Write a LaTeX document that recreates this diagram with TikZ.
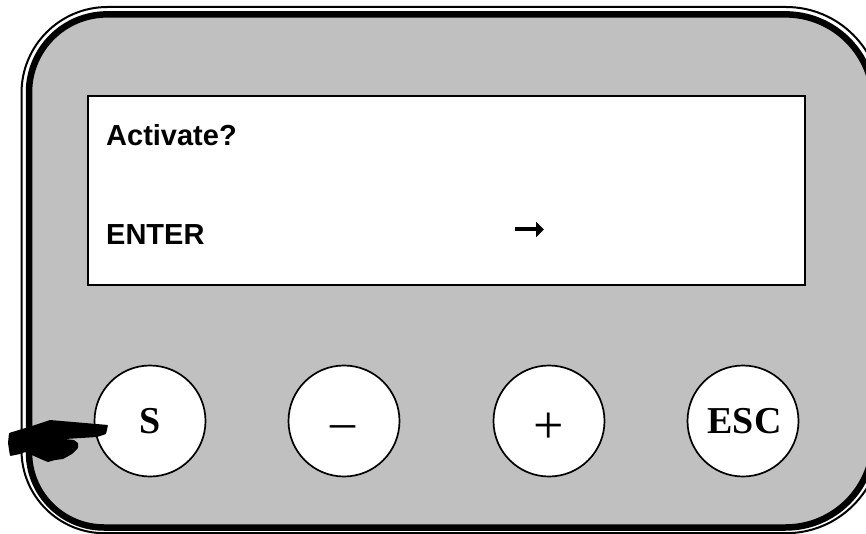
\documentclass[tikz,border=0pt]{standalone}
\usepackage{fontspec}
\setmainfont{Liberation Serif}
\setsansfont{Liberation Sans}
\usepackage{xcolor}
\usepackage{tikz}
\usetikzlibrary{arrows.meta,positioning}
\definecolor{panelgray}{HTML}{C0C0C0}
\tikzset{
  keybtn/.style={draw=black,line width=1.7pt,fill=white,circle,minimum size=111pt,inner sep=0pt,font=\rmfamily\bfseries},
  keylabel/.style={font=\rmfamily\bfseries\fontsize{38}{40}\selectfont},
  lcdtext/.style={font=\sffamily\bfseries\fontsize{29}{31}\selectfont,anchor=base west,inner sep=0pt}
}
\begin{document}
\begin{tikzpicture}[x=1pt,y=-1pt,>=Latex]
\useasboundingbox (0,0) rectangle (866,534);
\begin{scope}
\clip (0,0) rectangle (866,534);
\draw[line width=2pt] (400,7) [rounded corners=95pt] -- (881,7) -- (881,533.2) [rounded corners=83pt] -- (21.5,533.2) [rounded corners=86pt] -- (21.5,7) [sharp corners] -- cycle;
\draw[fill=panelgray,draw=black,line width=6.5pt] (400,14.4) [rounded corners=88pt] -- (873.5,14.4) -- (873.5,527.5) [rounded corners=75pt] -- (29,527.5) [rounded corners=78pt] -- (29,14.4) [sharp corners] -- cycle;
\end{scope}
\node[draw=black,line width=1.7pt,fill=white,minimum width=717pt,minimum height=189pt,inner sep=0pt] (lcd) at (446.5,190.5) {};
\node[lcdtext] (msgtop) at (106,146) {Activate?};
\node[lcdtext] (msgenter) at (106,245) {ENTER};
\node[keybtn,keylabel] (keyS) at (150,421) {S};
\node[keybtn] (keyminus) at (344,421) {};
\node[keybtn] (keyplus) at (549,421) {};
\node[keybtn] (keyesc) at (743,421) {};
\node[keylabel,inner sep=0pt] (esclabel) at (744.5,421) {ESC};
\node[font=\rmfamily\fontsize{50}{52}\selectfont,inner sep=0pt] (minussign) at (343,432) {--};
\node[font=\rmfamily\fontsize{54}{56}\selectfont,inner sep=0pt] (plussign) at (549,428) {+};
\coordinate (arrowstart) at (515,229.5);
\coordinate (arrowend) at (544,229.5);
\draw[-{Triangle[length=8pt,width=15pt]},line width=4pt] (arrowstart) -- (arrowend);
% pointing hand
\fill[black,rounded corners=0.7pt] (9,433) -- (32,426) -- (50,420) -- (108,425) -- (106,434) -- (97,437) -- (65,439) -- (74,440) -- (78,443) -- (78,448) -- (72,454) -- (63,459) -- (55,460) -- (48,462) -- (43,460) -- (25,452) -- (20,454) -- (10,456) -- (8,443) -- cycle;
\end{tikzpicture}
\end{document}
